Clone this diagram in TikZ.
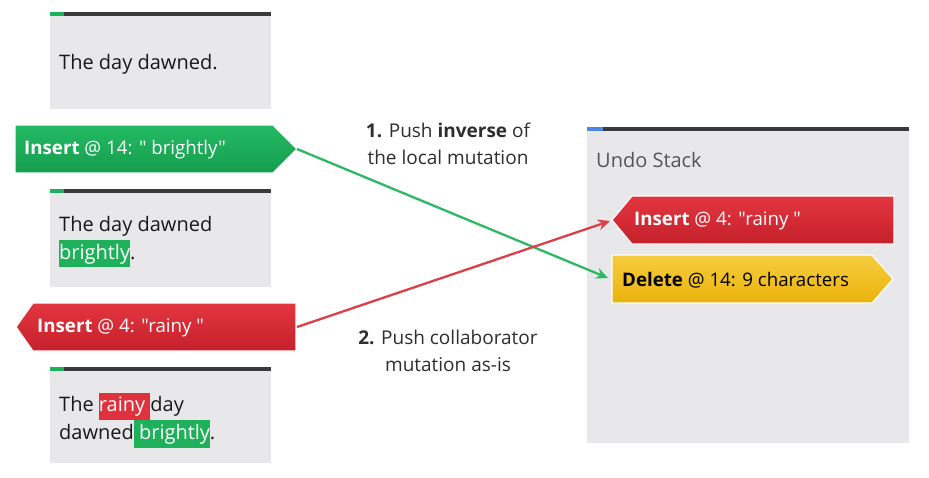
\documentclass[tikz,border=0pt]{standalone}
\usepackage{fontspec}
\setmainfont{Open Sans}[Ligatures=TeXOff]
\usetikzlibrary{arrows.meta}
\definecolor{boxgray}{HTML}{E8E8EA}
\definecolor{bardark}{HTML}{3A3A3C}
\definecolor{hlgreen}{HTML}{1EB05A}
\definecolor{hlred}{HTML}{E0323E}
\definecolor{gtop}{HTML}{23BA63}
\definecolor{gbot}{HTML}{169E4E}
\definecolor{rtop}{HTML}{E3363F}
\definecolor{rbot}{HTML}{C5202C}
\definecolor{ytop}{HTML}{F6CD40}
\definecolor{ybot}{HTML}{EAB30A}
\definecolor{barblue}{HTML}{4A88E0}
\definecolor{agreen}{HTML}{2DB865}
\definecolor{ared}{HTML}{DC3F45}
\definecolor{labeltext}{HTML}{2E2E2E}
\definecolor{stacktext}{HTML}{555558}
\newcommand\hlg[1]{{\setlength\fboxsep{0pt}\colorbox{hlgreen}{\strut\textcolor{white}{#1}}}}
\newcommand\hlr[1]{{\setlength\fboxsep{0pt}\colorbox{hlred}{\strut\textcolor{white}{#1}}}}
\begin{document}
\begin{tikzpicture}[x=1pt,y=-1pt,
  doctext/.style={inner sep=0pt, anchor=west, align=left, text=black!90, font=\fontsize{20}{27.5}\selectfont},
  tagtext/.style={inner sep=0pt, anchor=west, font=\fontsize{18.7}{22}\selectfont},
  tagshape/.style={draw=white, line width=1.2pt},
  steplabel/.style={inner sep=0pt, align=center, text=labeltext, font=\fontsize{19}{27}\selectfont},
  conn/.style={line width=2.3pt, -{Stealth[length=12pt,width=11pt,inset=4pt]}}
]
\useasboundingbox (0,0) rectangle (929,477);
\fill[white] (0,0) rectangle (929,477);

% document boxes
\foreach \t/\b in {12/109, 189/287, 367/463}{
  \fill[boxgray] (50,\t+3) rectangle (271,\b);
  \fill[bardark] (50,\t) rectangle (271,\t+4);
  \fill[hlgreen] (50,\t) rectangle (64,\t+4);
}
\node[doctext] (doc1) at (59,64) {The day dawned.};
\node[doctext] (doc2) at (59,242) {The day dawned\\\hlg{brightly}.};
\node[doctext] (doc3) at (59,420) {The \hlr{rainy\ }day\\dawned\hlg{\ brightly}.};

% local mutation tag (green)
\path[tagshape, top color=gtop, bottom color=gbot] (15,125) -- (273,125) -- (297,149) -- (273,173) -- (15,173) -- cycle;
\coordinate (gtip) at (297,149);
\node[tagtext, text=white] (gtag) at (24,150) {\textbf{Insert} @ 14: " brightly"};

% collaborator tag (red)
\path[tagshape, top color=rtop, bottom color=rbot] (16,327) -- (33,303) -- (296,303) -- (296,351) -- (33,351) -- cycle;
\coordinate (rtail) at (297,327);
\node[tagtext, text=white] (rtag) at (37,328) {\textbf{Insert} @ 4: "rainy "};

% undo stack
\fill[boxgray] (587,131) rectangle (909,443);
\fill[bardark] (587,127) rectangle (909,131);
\fill[barblue] (587,127) rectangle (603,131);
\node[inner sep=0pt, anchor=west, text=stacktext, font=\fontsize{20}{22}\selectfont] (stack) at (596,160) {Undo Stack};

\path[tagshape, top color=rtop, bottom color=rbot] (612,220) -- (632,196) -- (894,196) -- (894,244) -- (632,244) -- cycle;
\coordinate (sred) at (610,221);
\node[tagtext, text=white] (stag1) at (634,221) {\textbf{Insert} @ 4: "rainy "};

\path[tagshape, top color=ytop, bottom color=ybot] (612,255) -- (872,255) -- (893,279) -- (872,303) -- (612,303) -- cycle;
\coordinate (syel) at (608,278);
\node[tagtext, text=black] (stag2) at (622,280) {\textbf{Delete} @ 14: 9 characters};

% connectors
\draw[conn, agreen] (gtip) -- (syel);
\draw[conn, ared] (rtail) -- (sred);

% step labels
\node[steplabel] (l1) at (448,144) {\textbf{1.} Push \textbf{inverse} of\\the local mutation};
\node[steplabel] (l2) at (448,351) {\textbf{2.} Push collaborator\\mutation as-is};
\end{tikzpicture}
\end{document}
